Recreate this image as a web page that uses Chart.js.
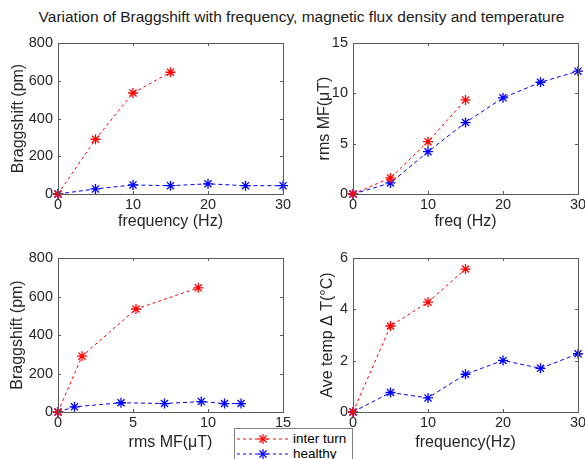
<!DOCTYPE html>
<html>
<head>
<meta charset="utf-8">
<script src="https://cdn.jsdelivr.net/npm/chart.js@4/dist/chart.umd.min.js"></script>
<style>
  html, body { margin: 0; padding: 0; background: #fff; overflow: hidden; }
  body { width: 585px; height: 459px; position: relative; font-family: "Liberation Sans", Arial, sans-serif; }
  canvas { position: absolute; }
  #title { position: absolute; left: 0; top: 8px; width: 603px; text-align: center; font-size: 15.5px; color: #1a1a1a; white-space: nowrap; }
  #legend { position: absolute; left: 234px; top: 428px; width: 117px; height: 40px; background: #fff;
            border: 1px solid #808080; font-size: 13.5px; color: #000; }
  #legend .row { position: absolute; left: 2px; height: 14px; }
  #legend svg { position: absolute; left: 0; top: 0; }
  #legend span { position: absolute; left: 56px; top: -1px; white-space: nowrap; line-height: 16px; }
</style>
</head>
<body>
<div id="title">Variation of Braggshift with frequency, magnetic flux density and temperature</div>
<canvas id="c1" width="300" height="210" style="left:0;top:28px"></canvas>
<canvas id="c2" width="300" height="210" style="left:295px;top:28px"></canvas>
<canvas id="c3" width="300" height="225" style="left:0;top:240px"></canvas>
<canvas id="c4" width="300" height="225" style="left:295px;top:240px"></canvas>
<div id="legend">
  <div class="row" style="top:3px">
    <svg width="52" height="14"><line x1="0" y1="7" x2="52" y2="7" stroke="#ff0000" stroke-dasharray="3,3"/>
      <g stroke="#ff0000" stroke-width="1.2"><line x1="21" y1="7" x2="31" y2="7"/><line x1="26" y1="2" x2="26" y2="12"/>
      <line x1="22.5" y1="3.5" x2="29.5" y2="10.5"/><line x1="29.5" y1="3.5" x2="22.5" y2="10.5"/></g></svg>
    <span>inter turn</span>
  </div>
  <div class="row" style="top:18px">
    <svg width="52" height="14"><line x1="0" y1="7" x2="52" y2="7" stroke="#0000ff" stroke-dasharray="3,3"/>
      <g stroke="#0000ff" stroke-width="1.2"><line x1="21" y1="7" x2="31" y2="7"/><line x1="26" y1="2" x2="26" y2="12"/>
      <line x1="22.5" y1="3.5" x2="29.5" y2="10.5"/><line x1="29.5" y1="3.5" x2="22.5" y2="10.5"/></g></svg>
    <span>healthy</span>
  </div>
</div>
<script>
// data
const freqIT = [0, 5, 10, 15];
const freqH = [0, 5, 10, 15, 20, 25, 30];
const braggIT = [0, 290, 535, 645];
const braggH = [0, 27, 48, 44, 54, 44, 44];
const rmsIT = [0, 1.6, 5.2, 9.35];
const rmsH = [0, 1.1, 4.2, 7.1, 9.55, 11.1, 12.2];
const tempIT = [0, 3.35, 4.28, 5.57];
const tempH = [0, 0.76, 0.55, 1.47, 2.01, 1.70, 2.27];

const INK = '#262626';
const BOX = '#5a5a5a';
const FONT = 'Liberation Sans, Arial, sans-serif';

const pts = (xs, ys) => xs.map((x, i) => ({ x, y: ys[i] }));

// matlab-ish box with inward ticks on all four sides
const boxPlugin = {
  id: 'box',
  afterDraw(chart) {
    const { ctx, chartArea: a, scales } = chart;
    ctx.save();
    ctx.strokeStyle = BOX;
    ctx.lineWidth = 1;
    ctx.strokeRect(Math.round(a.left) + 0.5, Math.round(a.top) + 0.5,
      Math.round(a.right - a.left), Math.round(a.bottom - a.top));
    const t = 3;
    ctx.beginPath();
    scales.x.ticks.forEach((tk) => {
      const px = Math.round(scales.x.getPixelForValue(tk.value)) + 0.5;
      ctx.moveTo(px, a.bottom); ctx.lineTo(px, a.bottom - t);
      ctx.moveTo(px, a.top); ctx.lineTo(px, a.top + t);
    });
    scales.y.ticks.forEach((tk) => {
      const py = Math.round(scales.y.getPixelForValue(tk.value)) + 0.5;
      ctx.moveTo(a.left, py); ctx.lineTo(a.left + t, py);
      ctx.moveTo(a.right, py); ctx.lineTo(a.right - t, py);
    });
    ctx.stroke();
    ctx.restore();
  },
};

function series(label, data, color, dash) {
  return {
    label, data,
    borderColor: color, backgroundColor: color,
    borderWidth: 1, borderDash: dash,
    pointStyle: 'star', pointRadius: 5, pointBorderWidth: 1.3,
    pointBorderColor: color, pointBackgroundColor: color,
    showLine: true, tension: 0, clip: false,
  };
}

function makeChart(id, cfg) {
  const { red, blue, xMax, xStep, yMax, yStep, xTitle, yTitle, xH, padTop, yTitlePad, xTitlePad } = cfg;
  return new Chart(document.getElementById(id), {
    type: 'scatter',
    data: {
      datasets: [
        series('inter turn', red, '#ff0000', [3, 3]),
        series('healthy', blue, '#0000ff', [4, 3]),
      ],
    },
    options: {
      responsive: false,
      animation: false,
      layout: { padding: { top: padTop, right: 17, left: 0, bottom: 0 } },
      plugins: { legend: { display: false }, tooltip: { enabled: false } },
      scales: {
        x: {
          type: 'linear', min: 0, max: xMax,
          ticks: { stepSize: xStep, color: INK, font: { family: FONT, size: 14.5 }, padding: 2, maxRotation: 0 },
          grid: { display: false, drawTicks: false },
          border: { display: false },
          title: { display: true, text: xTitle, color: INK, font: { family: FONT, size: 16 }, padding: { top: 0, bottom: xTitlePad } },
          afterFit: (s) => { s.height = xH; },
        },
        y: {
          type: 'linear', min: 0, max: yMax,
          ticks: { stepSize: yStep, color: INK, font: { family: FONT, size: 14.5 }, padding: 5 },
          grid: { display: false, drawTicks: false },
          border: { display: false },
          title: { display: true, text: yTitle, color: INK, font: { family: FONT, size: 16 }, padding: { top: yTitlePad, bottom: 0 } },
          afterFit: (s) => { s.width = 58; },
        },
      },
    },
    plugins: [boxPlugin],
  });
}

makeChart('c1', {
  red: pts(freqIT, braggIT), blue: pts(freqH, braggH),
  xMax: 30, xStep: 10, yMax: 800, yStep: 200,
  xTitle: 'frequency (Hz)', yTitle: 'Braggshift (pm)',
  xH: 44, padTop: 15, yTitlePad: 9, xTitlePad: 7,
});
makeChart('c2', {
  red: pts(freqIT, rmsIT), blue: pts(freqH, rmsH),
  xMax: 30, xStep: 10, yMax: 15, yStep: 5,
  xTitle: 'freq (Hz)', yTitle: 'rms MF(\u03BCT)',
  xH: 44, padTop: 15, yTitlePad: 20, xTitlePad: 7,
});
makeChart('c3', {
  red: pts(rmsIT, braggIT), blue: pts(rmsH, braggH),
  xMax: 15, xStep: 5, yMax: 800, yStep: 200,
  xTitle: 'rms MF(\u03BCT)', yTitle: 'Braggshift (pm)',
  xH: 53, padTop: 18, yTitlePad: 8, xTitlePad: 13,
});
makeChart('c4', {
  red: pts(freqIT, tempIT), blue: pts(freqH, tempH),
  xMax: 30, xStep: 10, yMax: 6, yStep: 2,
  xTitle: 'frequency(Hz)', yTitle: 'Ave temp \u0394 T(\u00B0C)',
  xH: 53, padTop: 18, yTitlePad: 23, xTitlePad: 13,
});
</script>
</body>
</html>
